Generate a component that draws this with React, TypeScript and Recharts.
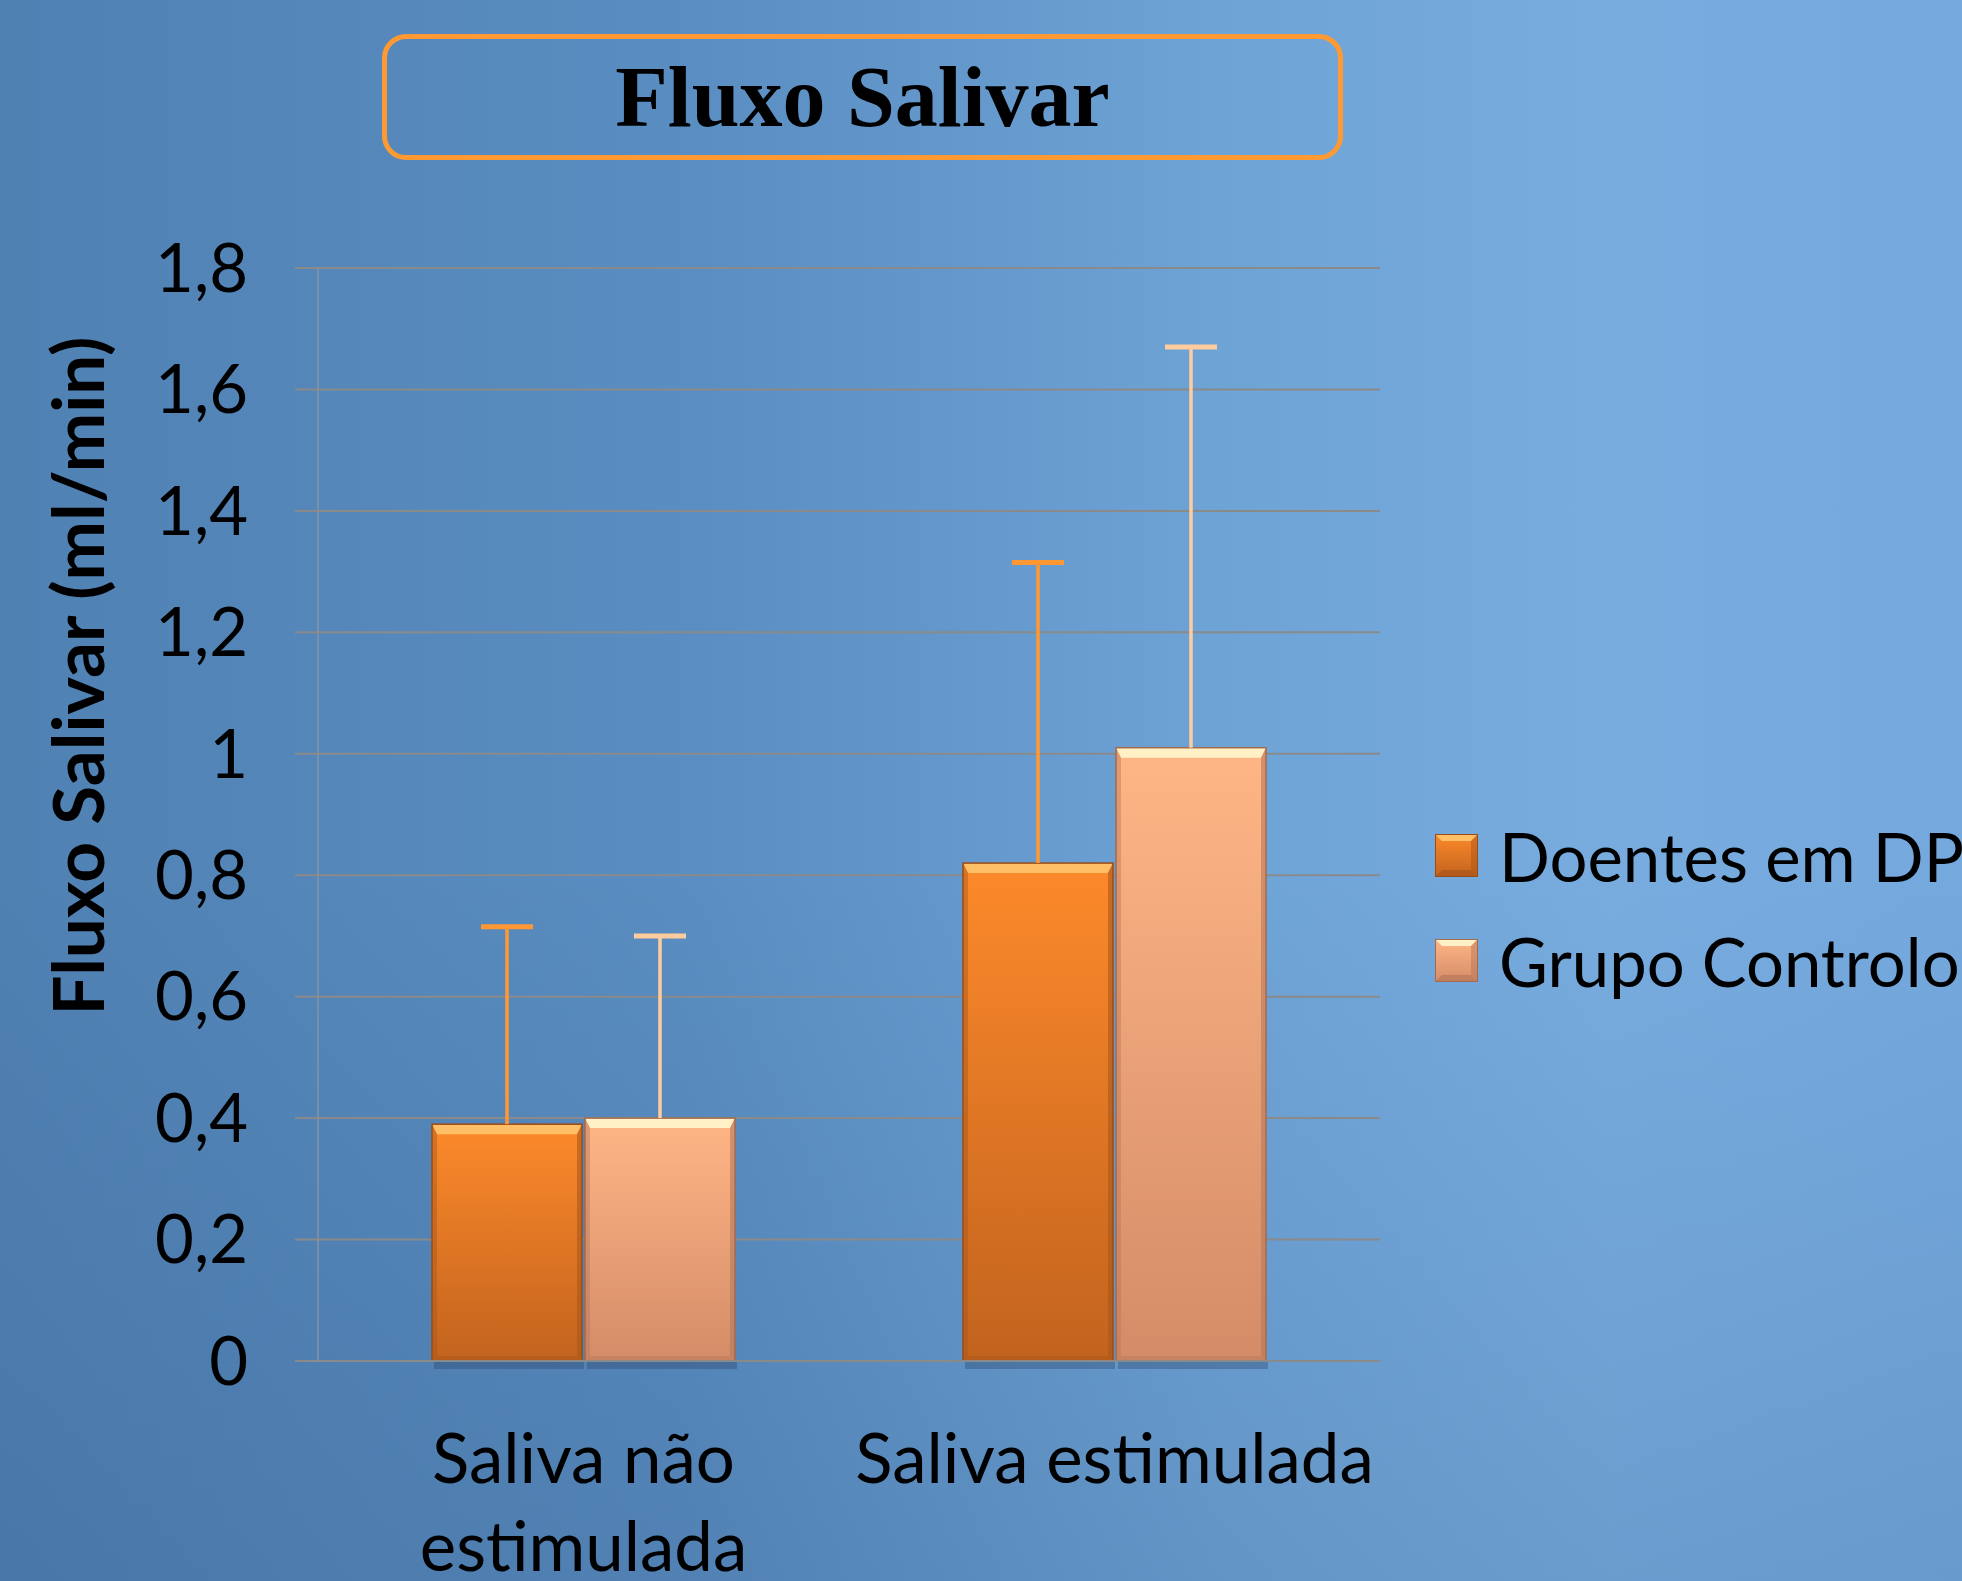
import { Bar, BarChart, CartesianGrid, Legend, XAxis, YAxis } from 'recharts';

const categories = ['Saliva não estimulada', 'Saliva estimulada'];
const seriesNames = ['Doentes em DP', 'Grupo Controlo'];
const doentesValues = [0.39, 0.82];
const controloValues = [0.4, 1.01];
const doentesSd = [0.325, 0.495];
const controloSd = [0.3, 0.66];
const yTicks = [0, 0.2, 0.4, 0.6, 0.8, 1, 1.2, 1.4, 1.6, 1.8];
const chartTitle = 'Fluxo Salivar';
const yTitle = 'Fluxo Salivar (ml/min)';

const data = categories.map((name, i) => ({
  name,
  doentes: doentesValues[i],
  controlo: controloValues[i],
  doentesSd: doentesSd[i],
  controloSd: controloSd[i],
}));

const FONT = 'Lato, "Open Sans", sans-serif';
const CAT_FONT_SIZE = 69;

interface BevelStyle {
  id: string;
  top: string;
  bottom: string;
  highlight: string;
  edge: string;
  outline: string;
  err: string;
}

const DOENTES: BevelStyle = {
  id: 'doentes',
  top: '#fd8a2b',
  bottom: '#c2631e',
  highlight: '#ffbf66',
  edge: '#a9561a',
  outline: '#9a4c16',
  err: '#ff9833',
};
const CONTROLO: BevelStyle = {
  id: 'controlo',
  top: '#ffb686',
  bottom: '#d48c68',
  highlight: '#fff0c6',
  edge: '#b8785a',
  outline: '#a46a4e',
  err: '#ffcc9e',
};
const seriesStyles = [DOENTES, CONTROLO];

/** Excel-like bevelled bar with a one-sided (upper) error bar. */
function bevelShape(style: BevelStyle, valueKey: string, sdKey: string) {
  return (props: any) => {
    const { x, y, width: w, height: h, payload, index } = props;
    if (!h || h <= 0) return <g />;
    const errPx = (payload[sdKey] * h) / payload[valueKey];
    const gid = `grad-${style.id}-${index}`;
    const b = 10;
    const e = 5;
    const cx = x + w / 2;
    return (
      <g>
        <defs>
          <linearGradient id={gid} x1="0" y1="0" x2="0" y2="1">
            <stop offset="0%" stopColor={style.top} />
            <stop offset="100%" stopColor={style.bottom} />
          </linearGradient>
        </defs>
        <rect x={x + 2} y={y + h} width={w} height={8} fill="#1d3558" opacity={0.3} />
        <rect x={x} y={y} width={w} height={h} fill={`url(#${gid})`} />
        <polygon
          points={`${x},${y} ${x + w},${y} ${x + w - e},${y + b} ${x + e},${y + b}`}
          fill={style.highlight}
        />
        <polygon
          points={`${x},${y} ${x + e},${y + b} ${x + e},${y + h - e} ${x},${y + h}`}
          fill={style.edge}
          opacity={0.45}
        />
        <polygon
          points={`${x + w},${y} ${x + w - e},${y + b} ${x + w - e},${y + h - e} ${x + w},${y + h}`}
          fill={style.edge}
          opacity={0.6}
        />
        <polygon
          points={`${x},${y + h} ${x + e},${y + h - e} ${x + w - e},${y + h - e} ${x + w},${y + h}`}
          fill={style.edge}
          opacity={0.5}
        />
        <rect x={x} y={y} width={w} height={h} fill="none" stroke={style.outline} strokeWidth={1.5} />
        <line x1={cx} x2={cx} y1={y} y2={y - errPx} stroke={style.err} strokeWidth={3.5} />
        <line x1={cx - 26} x2={cx + 26} y1={y - errPx} y2={y - errPx} stroke={style.err} strokeWidth={5} />
      </g>
    );
  };
}

let measureCtx: CanvasRenderingContext2D | null = null;

// greedy word wrap, measured with a canvas using the label font
function wrapLabel(text: string, maxWidth: number): string[] {
  if (!measureCtx) measureCtx = document.createElement('canvas').getContext('2d');
  const ctx = measureCtx;
  if (!ctx) return [text];
  ctx.font = `${CAT_FONT_SIZE}px Lato`;
  const lines: string[] = [];
  let current = '';
  for (const word of text.split(' ')) {
    const next = current ? `${current} ${word}` : word;
    if (current && ctx.measureText(next).width > maxWidth) {
      lines.push(current);
      current = word;
    } else {
      current = next;
    }
  }
  if (current) lines.push(current);
  return lines;
}

function CategoryTick({ x, y, payload }: any) {
  const lines = wrapLabel(String(payload.value), 520);
  return (
    <text x={x} y={y} textAnchor="middle" fontSize={CAT_FONT_SIZE} fontFamily={FONT} fill="#000">
      {lines.map((line, i) => (
        <tspan key={line} x={x} dy={i === 0 ? 49 : 88}>
          {line}
        </tspan>
      ))}
    </text>
  );
}

function YAxisTitle() {
  return (
    <text
      x={76}
      y={676}
      transform="rotate(-90, 76, 676)"
      textAnchor="middle"
      dominantBaseline="central"
      fontFamily={FONT}
      fontWeight={700}
      fontSize={71}
      fill="#000"
    >
      {yTitle}
    </text>
  );
}

function LegendSwatch({ style }: { style: BevelStyle }) {
  const s = 43;
  const b = 7;
  return (
    <svg width={s} height={s} style={{ display: 'block', marginRight: 21 }}>
      <defs>
        <linearGradient id={`leg-${style.id}`} x1="0" y1="0" x2="0" y2="1">
          <stop offset="0%" stopColor={style.top} />
          <stop offset="100%" stopColor={style.bottom} />
        </linearGradient>
      </defs>
      <rect x={0} y={0} width={s} height={s} fill={`url(#leg-${style.id})`} />
      <polygon points={`0,0 ${s},0 ${s - b},${b} ${b},${b}`} fill={style.highlight} />
      <polygon points={`0,${s} ${b},${s - b} ${s - b},${s - b} ${s},${s}`} fill={style.edge} opacity={0.7} />
      <polygon points={`${s},0 ${s - b},${b} ${s - b},${s - b} ${s},${s}`} fill={style.edge} opacity={0.5} />
      <rect x={0.5} y={0.5} width={s - 1} height={s - 1} fill="none" stroke={style.outline} />
    </svg>
  );
}

function renderLegend({ payload }: any) {
  const items = [...(payload ?? [])].sort(
    (a: any, b: any) => seriesNames.indexOf(a.value) - seriesNames.indexOf(b.value),
  );
  return (
    <div style={{ fontFamily: FONT, fontSize: 67, color: '#000', whiteSpace: 'nowrap' }}>
      {items.map((entry: any) => (
        <div key={entry.value} style={{ display: 'flex', alignItems: 'center', height: 105 }}>
          <LegendSwatch style={seriesStyles[seriesNames.indexOf(entry.value)]} />
          <span>{entry.value}</span>
        </div>
      ))}
    </div>
  );
}

export default function App() {
  return (
    <div
      style={{
        position: 'absolute',
        left: 0,
        top: 0,
        width: 1962,
        height: 1581,
        overflow: 'hidden',
        background:
          'linear-gradient(180deg, rgba(0,0,0,0) 55%, rgba(20,45,85,0.12) 100%), linear-gradient(90deg, #5081b3 0%, #5a8dc1 35%, #6ea3d6 62%, #78acdf 82%, #75a9de 100%)',
      }}
    >
      <div
        style={{
          position: 'absolute',
          left: 382,
          top: 34,
          width: 961,
          height: 126,
          boxSizing: 'border-box',
          border: '5px solid #ff9a33',
          borderRadius: 24,
          display: 'flex',
          alignItems: 'center',
          justifyContent: 'center',
          fontFamily: '"Liberation Serif", "Times New Roman", serif',
          fontWeight: 700,
          fontSize: 86,
          color: '#000',
        }}
      >
        {chartTitle}
      </div>
      <BarChart
        width={1962}
        height={1581}
        data={data}
        margin={{ top: 268, right: 582, bottom: 0, left: 0 }}
        barSize={150}
        barGap={3}
      >
        <CartesianGrid horizontal vertical={false} stroke="#8a8a8a" strokeWidth={2} />
        <XAxis
          dataKey="name"
          height={220}
          axisLine={{ stroke: '#8a8a8a', strokeWidth: 2 }}
          tickLine={false}
          tickSize={0}
          tickMargin={73}
          tick={<CategoryTick />}
          interval={0}
        />
        <YAxis
          width={318}
          domain={[0, 1.8]}
          ticks={yTicks}
          interval={0}
          tickFormatter={(v: number) => String(v).replace('.', ',')}
          tick={{ fontSize: 67, fontFamily: FONT, fill: '#000' }}
          tickSize={23}
          tickMargin={47}
          tickLine={{ stroke: '#8a8a8a', strokeWidth: 2 }}
          axisLine={{ stroke: '#9c9c9c', strokeWidth: 1 }}
          label={<YAxisTitle />}
        />
        <Legend
          layout="vertical"
          align="center"
          verticalAlign="middle"
          wrapperStyle={{ left: 1435, top: 803, width: 560 }}
          content={renderLegend}
        />
        <Bar
          dataKey="doentes"
          name={seriesNames[0]}
          fill={DOENTES.top}
          shape={bevelShape(DOENTES, 'doentes', 'doentesSd')}
          isAnimationActive={false}
        />
        <Bar
          dataKey="controlo"
          name={seriesNames[1]}
          fill={CONTROLO.top}
          shape={bevelShape(CONTROLO, 'controlo', 'controloSd')}
          isAnimationActive={false}
        />
      </BarChart>
    </div>
  );
}
